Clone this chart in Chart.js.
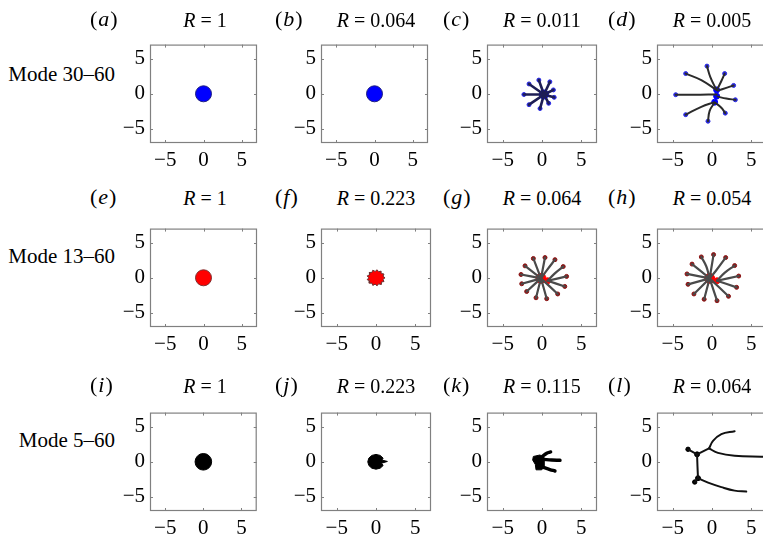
<!DOCTYPE html>
<html>
<head>
<meta charset="utf-8">
<script src="https://cdn.jsdelivr.net/npm/chart.js@4.4.0/dist/chart.umd.min.js"></script>
<style>
  html, body { margin: 0; padding: 0; background: #fff; overflow: hidden; width: 763px; height: 535px; }
  #fig { position: relative; width: 763px; height: 535px; font-family: "Liberation Serif", "Times New Roman", serif; color: #000; }
  canvas { position: absolute; }
  .lbl, .ttl, .row { position: absolute; line-height: 1; white-space: nowrap; }
  .lbl { font-size: 22px; letter-spacing: 1px; }
  .ttl { font-size: 20px; transform: translateX(-50%); }
  .row { font-size: 21px; }
</style>
</head>
<body>
<div id="fig"></div>
<script>
// axes
const axisTicks = [-5, 0, 5];
const axisMin = -7;
const axisMax = 7;

// labels
const rowLabels = ['Mode 30–60', 'Mode 13–60', 'Mode 5–60'];
const panelLetters = ['a', 'b', 'c', 'd', 'e', 'f', 'g', 'h', 'i', 'j', 'k', 'l'];
const panelR = ['1', '0.064', '0.011', '0.005', '1', '0.223', '0.064', '0.054', '1', '0.223', '0.115', '0.064'];

// shapes (data units)
const discCenter = [[0, 0]];

const hubC = [[0.25, -0.1]];
const tipsC = [[-2.3, -0.1], [-1.65, 1.4], [-0.4, 1.95], [1.0, 1.7], [1.45, 0.55],
               [1.55, -0.5], [0.85, -1.35], [-0.25, -2.1], [-1.65, -1.55]];

const nodesD = [[0.59, 0.55], [0.59, -0.34], [0.34, -1.19]];
const armsD = [
  [[0.59, -0.1], [-1.5, -0.12], [-4.62, -0.13]],
  [[0.55, 0.55], [-1.36, 1.95], [-3.35, 2.88]],
  [[0.5, 0.7], [-0.21, 2.37], [-0.64, 3.94]],
  [[0.7, 0.7], [1.19, 1.82], [1.61, 2.88]],
  [[0.75, 0.45], [1.82, 0.85], [2.75, 1.19]],
  [[0.7, -0.4], [1.82, -0.68], [2.97, -0.85]],
  [[0.3, -1.19], [-1.36, -1.86], [-3.35, -2.97]],
  [[0.3, -1.3], [-0.3, -2.42], [-0.51, -3.9]],
  [[0.45, -1.3], [1.19, -1.99], [1.69, -2.75]]
];

const discF = [[1.15, 0], [0.89, 0.22], [1.02, 0.53], [0.69, 0.61], [0.65, 0.95], [0.33, 0.86],
               [0.14, 1.14], [-0.11, 0.91], [-0.41, 1.08], [-0.52, 0.76], [-0.86, 0.76], [-0.81, 0.43],
               [-1.12, 0.27], [-0.92, 0], [-1.12, -0.27], [-0.81, -0.43], [-0.86, -0.76], [-0.52, -0.76],
               [-0.41, -1.08], [-0.11, -0.91], [0.14, -1.14], [0.33, -0.86], [0.65, -0.95], [0.69, -0.61],
               [1.02, -0.53], [0.89, -0.22], [1.15, 0]];

const hubG = [[-0.13, -0.08]];
const knotG = [[0.72, -0.42]];
const armsG = [
  [[-0.13, -0.08], [-1.1, 2.75]],
  [[-0.13, -0.08], [0.38, 2.88]],
  [[-0.13, -0.08], [0.7, 1.2], [1.65, 2.58]],
  [[0.72, -0.42], [1.6, 0.6], [2.7, 1.6]],
  [[0.72, -0.42], [3.13, 0.2]],
  [[0.72, -0.42], [2.9, -1.23]],
  [[-0.13, -0.08], [2.0, -2.3]],
  [[-0.13, -0.08], [0.6, -2.97]],
  [[-0.13, -0.08], [-0.76, -2.84]],
  [[-0.13, -0.08], [-1.95, -1.95]],
  [[-0.13, -0.08], [-2.58, -0.85]],
  [[-0.13, -0.08], [-2.67, 0.47]],
  [[-0.13, -0.08], [-2.16, 1.7]]
];

const hubH = [[-0.3, -0.08]];
const knotH = [[0.64, -0.42]];
const armsH = [
  [[-0.3, -0.08], [-0.72, 1.61], [-1.36, 2.97]],
  [[-0.3, -0.08], [0.2, 3.3]],
  [[-0.3, -0.08], [0.5, 1.0], [1.74, 2.88]],
  [[0.64, -0.42], [1.6, 0.7], [2.88, 1.74]],
  [[0.64, -0.42], [3.4, 0.25]],
  [[0.64, -0.42], [3.13, -1.36]],
  [[-0.3, -0.08], [2.1, -2.63]],
  [[-0.3, -0.08], [0.64, -3.26]],
  [[-0.3, -0.08], [-1.0, -3.05]],
  [[-0.3, -0.08], [-2.3, -2.3]],
  [[-0.3, -0.08], [-3.05, -0.93]],
  [[-0.3, -0.08], [-3.18, 0.55]],
  [[-0.3, -0.08], [-2.54, 1.95]]
];

const discJ = [[0.91, 0.52], [0.53, 0.91], [0, 1.05], [-0.53, 0.91], [-0.91, 0.53], [-1.05, 0],
               [-0.91, -0.53], [-0.53, -0.91], [0, -1.05], [0.53, -0.91], [0.91, -0.53], [0.7, -0.2],
               [1.45, 0.05], [0.75, 0.25], [0.91, 0.52]];

const bodyK = [[-1.1, 0.76], [-0.25, 0.97], [0.25, 0.6], [0.25, -0.8], [-0.04, -1.14],
               [-0.76, -1.14], [-0.85, -0.38], [-1.19, 0.25], [-1.1, 0.76]];
const armsK = [
  [[-0.04, 0.68], [0.6, 1.23], [1.1, 1.4]],
  [[0.17, 0.34], [1.23, 0.25], [2.29, 0.21]],
  [[0.17, -0.8], [1.0, -1.1], [1.65, -1.31]]
];

const nodesL = [[-1.9, 1.06], [-1.78, -2.33]];
const armsL = [
  [[-1.9, 1.06], [-3.05, 1.78]],
  [[-1.9, 1.06], [-1.85, -0.6], [-1.78, -2.33]],
  [[-1.78, -2.33], [-2.2, -2.88]],
  [[-1.9, 1.06], [-0.38, 1.9]],
  [[-0.38, 1.9], [0.13, 2.97], [1.19, 3.94], [2.88, 4.36]],
  [[-0.38, 1.9], [0.76, 1.27], [2.88, 0.85], [6.27, 0.72], [7.5, 0.7]],
  [[-1.78, -2.33], [-0.5, -2.97], [1.19, -3.6], [2.88, -4.1], [4.36, -4.24]]
];
const spurTipsL = [[-3.05, 1.78], [-2.2, -2.88]];

// layout
const colLeft = [150, 321, 487, 657];
const rowTop = [33, 217, 401];
const plotSize = 110;
const labelLeft = [90, 275, 443, 608];
const textMidY = [20, 198, 386];
const rowMidY = [75, 257, 441];
const padL = 44, padT = 6, padR = 6, padB = 34;
const SERIF = '"Liberation Serif", "Times New Roman", serif';

const BLUE = '#0000ff', RED = '#ff0000', BLACK = '#000000';

const pts = a => a.map(([x, y]) => ({ x, y }));

function disc(points, color, radius, edge) {
  return { data: pts(points), showLine: false, pointRadius: radius, pointHoverRadius: radius,
           backgroundColor: color, borderColor: edge || color, borderWidth: 1 };
}
function line(points, color, width, tension) {
  return { data: pts(points), showLine: true, borderColor: color, borderWidth: width,
           pointRadius: 0, tension: tension || 0, fill: false, borderCapStyle: 'round' };
}
function shape(points, color, edge) {
  return { data: pts(points), showLine: true, fill: 'shape', backgroundColor: color,
           borderColor: edge || color, borderWidth: 1, pointRadius: 0 };
}
function arms(list, color, width) {
  return list.map(a => line(a, color, width, 0.4));
}
const tips = list => list.map(a => a[a.length - 1]);
const starArms = (hub, t) => t.map(p => [hub, p]);

const panels = [
  [disc(discCenter, BLUE, 8, '#202080')],
  [disc(discCenter, BLUE, 8, '#202080')],
  [...arms(starArms(hubC[0], tipsC), '#1e1e55', 2.6), disc(tipsC, '#2a2ae0', 2), disc(hubC, BLUE, 4.5)],
  [...arms(armsD, '#2b2b2b', 2), disc(tips(armsD), '#2a2ae0', 2), disc(nodesD, BLUE, 3)],
  [disc(discCenter, RED, 8, '#803030')],
  [shape(discF, RED, '#6a3030')],
  [...arms(armsG, '#4a4a4a', 2.2), disc(tips(armsG), '#8b1515', 2), disc(hubG, RED, 5), disc(knotG, RED, 3)],
  [...arms(armsH, '#4a4a4a', 2.2), disc(tips(armsH), '#8b1515', 2), disc(hubH, RED, 5), disc(knotH, RED, 3)],
  [disc(discCenter, BLACK, 8.3)],
  [shape(discJ, BLACK)],
  [shape(bodyK, BLACK), ...arms(armsK, BLACK, 3.4)],
  [...arms(armsL, '#111', 2), disc(nodesL, BLACK, 2.5), disc(spurTipsL, BLACK, 2.2)]
];

// box + inward tick marks, as in the original axes
const boxPlugin = {
  id: 'box',
  afterDraw(chart) {
    const { ctx, chartArea: a, scales: { x, y } } = chart;
    ctx.save();
    ctx.strokeStyle = '#808080';
    ctx.lineWidth = 1.2;
    ctx.strokeRect(a.left + 0.5, a.top + 0.5, a.width - 1, a.height - 1);
    ctx.lineWidth = 1;
    ctx.beginPath();
    axisTicks.forEach(v => {
      const px = Math.round(x.getPixelForValue(v)) + 0.5;
      const py = Math.round(y.getPixelForValue(v)) + 0.5;
      ctx.moveTo(px, a.top); ctx.lineTo(px, a.top + 3);
      ctx.moveTo(px, a.bottom); ctx.lineTo(px, a.bottom - 3);
      ctx.moveTo(a.left, py); ctx.lineTo(a.left + 3, py);
      ctx.moveTo(a.right, py); ctx.lineTo(a.right - 3, py);
    });
    ctx.stroke();
    ctx.restore();
  }
};

function axis(horizontal) {
  return {
    type: 'linear', min: axisMin, max: axisMax,
    afterBuildTicks: s => { s.ticks = axisTicks.map(v => ({ value: v })); },
    afterFit: s => { if (horizontal) s.height = padB; else s.width = padL; },
    grid: { display: false, drawTicks: false },
    border: { display: false },
    ticks: {
      color: '#000', padding: horizontal ? 5 : 5, autoSkip: false, maxRotation: 0,
      font: { family: SERIF, size: 21 },
      callback: v => (v < 0 ? '−' + Math.abs(v) : String(v))
    }
  };
}

const fig = document.getElementById('fig');

function addText(cls, html, left, top) {
  const d = document.createElement('div');
  d.className = cls;
  d.innerHTML = html;
  d.style.left = left + 'px';
  d.style.top = top + 'px';
  fig.appendChild(d);
  return d;
}

function build() {
  Chart.defaults.font.family = SERIF;

  rowLabels.forEach((t, r) => {
    const d = addText('row', t, 0, rowMidY[r] - 11);
    d.style.left = 'auto';
    d.style.right = (763 - 115) + 'px';
  });

  panels.forEach((datasets, i) => {
    const r = Math.floor(i / 4), c = i % 4;
    const cv = document.createElement('canvas');
    cv.width = padL + plotSize + padR;
    cv.height = padT + plotSize + padB;
    cv.style.left = (colLeft[c] - padL) + 'px';
    cv.style.top = (rowTop[r] - padT) + 'px';
    fig.appendChild(cv);

    new Chart(cv, {
      type: 'scatter',
      data: { datasets },
      options: {
        responsive: false,
        animation: false,
        layout: { padding: { top: padT, right: padR, left: 0, bottom: 0 } },
        plugins: { legend: { display: false }, tooltip: { enabled: false } },
        scales: { x: axis(true), y: axis(false) }
      },
      plugins: [boxPlugin]
    });

    addText('lbl', '(<i>' + panelLetters[i] + '</i>)', labelLeft[c], textMidY[r] - 12);
    addText('ttl', '<i>R</i> = ' + panelR[i], colLeft[c] + plotSize / 2, textMidY[r] - 10);
  });
}

document.fonts.load('21px "Liberation Serif"').then(build, build);
</script>
</body>
</html>
